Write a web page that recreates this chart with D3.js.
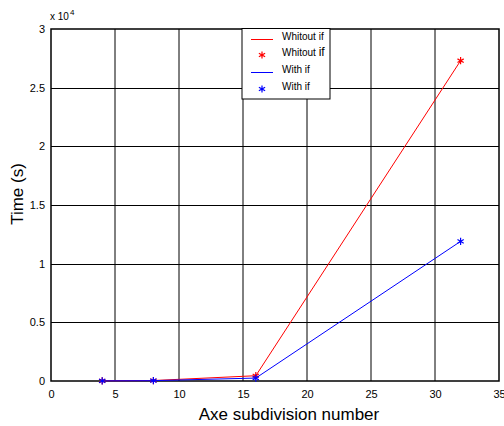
<!DOCTYPE html>
<html>
<head>
<meta charset="utf-8">
<script src="https://cdn.jsdelivr.net/npm/d3@7"></script>
<style>
  html, body { margin: 0; padding: 0; background: #fff; }
  svg text { font-family: "Liberation Sans", Arial, sans-serif; fill: #000; }
</style>
</head>
<body>
<svg id="chart" width="504" height="426"></svg>
<script>
// Run time versus number of subdivisions per axis
const subdivisions = [4, 8, 16, 32];
const timeWithoutIf = [15, 40, 450, 27300];
const timeWithIf = [10, 30, 250, 11900];
const xTicks = [0, 5, 10, 15, 20, 25, 30, 35];
const yTicks = [0, 5000, 10000, 15000, 20000, 25000, 30000];
const yTickLabels = ["0", "0.5", "1", "1.5", "2", "2.5", "3"];
const legendLabels = ["Whitout if", "Whitout if", "With if", "With if"];

const svg = d3.select("#chart");
const plotLeft = 51, plotRight = 499, plotTop = 29, plotBottom = 381;

const x = d3.scaleLinear().domain([0, 35]).range([plotLeft, plotRight]);
const y = d3.scaleLinear().domain([0, 30000]).range([plotBottom, plotTop]);

// grid
const grid = svg.append("g");
grid.selectAll("line.v").data(xTicks.slice(1, -1)).join("line")
  .attr("x1", d => x(d)).attr("x2", d => x(d))
  .attr("y1", plotTop).attr("y2", plotBottom)
  .attr("stroke", "#000").attr("stroke-width", 1);
grid.selectAll("line.h").data(yTicks.slice(1, -1)).join("line")
  .attr("x1", plotLeft).attr("x2", plotRight)
  .attr("y1", d => Math.round(y(d)) + 0.5).attr("y2", d => Math.round(y(d)) + 0.5)
  .attr("stroke", "#000").attr("stroke-width", 1);

// axes
const xAxis = svg.append("g").attr("transform", `translate(0,${plotBottom})`)
  .call(d3.axisBottom(x).tickValues(xTicks).tickSize(0).tickPadding(9));
xAxis.select(".domain").remove();
xAxis.selectAll("text").attr("font-size", 11).style("font-family", "Liberation Sans, Arial, sans-serif");

const yAxis = svg.append("g").attr("transform", `translate(${plotLeft},0)`)
  .call(d3.axisLeft(y).tickValues(yTicks).tickFormat((d, i) => yTickLabels[i]).tickSize(0).tickPadding(6));
yAxis.select(".domain").remove();
yAxis.selectAll("text").attr("font-size", 11).style("font-family", "Liberation Sans, Arial, sans-serif");

// exponent label
const expo = svg.append("text").attr("x", 50).attr("y", 20).attr("font-size", 10);
expo.append("tspan").text("x 10");
expo.append("tspan").attr("dy", -5).attr("dx", 1).attr("font-size", 8).text("4");

// frame
svg.append("rect").attr("x", plotLeft).attr("y", plotTop)
  .attr("width", plotRight - plotLeft).attr("height", plotBottom - plotTop)
  .attr("fill", "none").attr("stroke", "#000").attr("stroke-width", 1.5);

// series
const line = d3.line().x(d => x(d[0])).y(d => y(d[1]));
const star = d3.symbol().type(d3.symbolAsterisk).size(36);

function drawSeries(values, color) {
  const pts = subdivisions.map((s, i) => [s, values[i]]);
  svg.append("path").datum(pts).attr("d", line)
    .attr("fill", "none").attr("stroke", color).attr("stroke-width", 1);
  svg.append("g").selectAll("path").data(pts).join("path")
    .attr("transform", d => `translate(${x(d[0])},${y(d[1])})`)
    .attr("d", star).attr("fill", "none").attr("stroke", color).attr("stroke-width", 1.2);
}
drawSeries(timeWithoutIf, "#ff0000");
drawSeries(timeWithIf, "#0000ff");

// axis titles
svg.append("text").attr("x", 289).attr("y", 420)
  .attr("text-anchor", "middle").attr("font-size", 17).text("Axe subdivision number");
svg.append("text").attr("transform", "translate(23,194) rotate(-90)")
  .attr("text-anchor", "middle").attr("font-size", 17).text("Time (s)");

// legend
const lg = svg.append("g");
lg.append("rect").attr("x", 242).attr("y", 28.5).attr("width", 88).attr("height", 70.5)
  .attr("fill", "#fff").attr("stroke", "#000").attr("stroke-width", 1);
const rows = [
  { label: legendLabels[0], color: "#ff0000", kind: "line", y: 39 },
  { label: legendLabels[1], color: "#ff0000", kind: "mark", y: 55 },
  { label: legendLabels[2], color: "#0000ff", kind: "line", y: 72 },
  { label: legendLabels[3], color: "#0000ff", kind: "mark", y: 89 }
];
rows.forEach((r, i) => {
  if (r.kind === "line") {
    lg.append("line").attr("x1", 251).attr("x2", 273).attr("y1", r.y + 0.5).attr("y2", r.y + 0.5)
      .attr("stroke", r.color).attr("stroke-width", 1);
  } else {
    lg.append("path").attr("transform", `translate(262,${r.y})`).attr("d", star)
      .attr("fill", "none").attr("stroke", r.color).attr("stroke-width", 1.2);
  }
  const t = lg.append("text").attr("x", 282).attr("y", r.y + 1).attr("font-size", 10);
  if (i === 1) {
    const parts = r.label.split(" ");
    t.append("tspan").text(parts[0] + " ");
    t.append("tspan").attr("font-size", 12).text(parts[1]);
  } else {
    t.text(r.label);
  }
});
</script>
</body>
</html>
